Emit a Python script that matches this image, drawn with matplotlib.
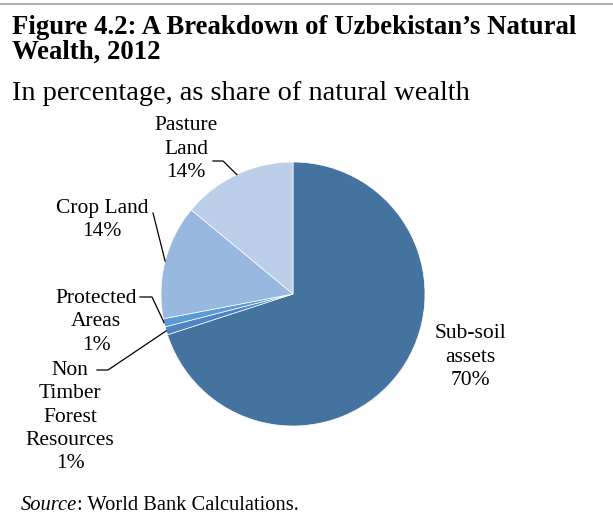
import matplotlib.pyplot as plt
import numpy as np

labels = ["Sub-soil\nassets", "Non\nTimber\nForest\nResources", "Protected\nAreas", "Crop Land", "Pasture\nLand"]
shares = [70, 1, 1, 14, 14]
colors = ["#44739f", "#4f84c4", "#5a9ad8", "#98b8e0", "#bbcfe8"]

plt.rcParams['font.family'] = ['Liberation Serif', 'DejaVu Serif']

W, H = 613, 515
fig = plt.figure(figsize=(W / 100, H / 100), dpi=100)

# pie centre / radius in pixels (from top-left)
cx, cy, r = 293, 294, 132
ax = fig.add_axes([(cx - r) / W, (H - cy - r) / H, 2 * r / W, 2 * r / H])
wedges, _ = ax.pie(shares, colors=colors, startangle=90, counterclock=False,
                   wedgeprops=dict(edgecolor="white", linewidth=0.5))
ax.set_xlim(-1, 1)
ax.set_ylim(-1, 1)
ax.set_aspect("auto")
ax.axis("off")


def px(x, y):
    # pixel position -> pie data units
    return ((x - cx) / r, (cy - y) / r)


def edge(i):
    w = wedges[i]
    a = np.deg2rad((w.theta1 + w.theta2) / 2)
    return np.cos(a), np.sin(a)


fs = 15.5
# (text centre, leader path points in pixels)
placements = [
    ((470, 357), None),
    ((70, 417), [(97, 370), (108, 370)]),
    ((96, 322), [(140, 297), (152, 297)]),
    ((102, 220), [(153, 213)]),
    ((186, 149), [(213, 161), (223, 161)]),
]
for i, (lab, val) in enumerate(zip(labels, shares)):
    (tx, ty), path = placements[i]
    ax.text(*px(tx, ty), f"{lab}\n{val}%", ha="center", va="center",
            fontsize=fs, linespacing=1.32, clip_on=False)
    if path:
        pts = [px(*p) for p in path] + [edge(i)]
        xs, ys = zip(*pts)
        ax.plot(xs, ys, color="black", lw=0.9, clip_on=False)

fig.text(12 / W, 1 - 40 / H, "Figure 4.2: A Breakdown of Uzbekistan\u2019s Natural\nWealth, 2012",
         fontsize=19.3, fontweight="bold", va="center", ha="left", linespacing=0.97)
fig.text(12 / W, 1 - 94 / H, "In percentage, as share of natural wealth",
         fontsize=20.4, va="center", ha="left")
src = fig.text(21 / W, 1 - 506 / H, "Source", fontsize=14.8, style="italic", va="center", ha="left")
fig.canvas.draw()
bb = src.get_window_extent()
fig.text(bb.x1 / W, 1 - 506 / H, ": World Bank Calculations.", fontsize=14.8, va="center", ha="left")
fig.add_artist(plt.Line2D([0, 1], [1 - 4 / H, 1 - 4 / H], color="#b0b0b0", lw=1.5))

fig.savefig("out.png", dpi=100)
